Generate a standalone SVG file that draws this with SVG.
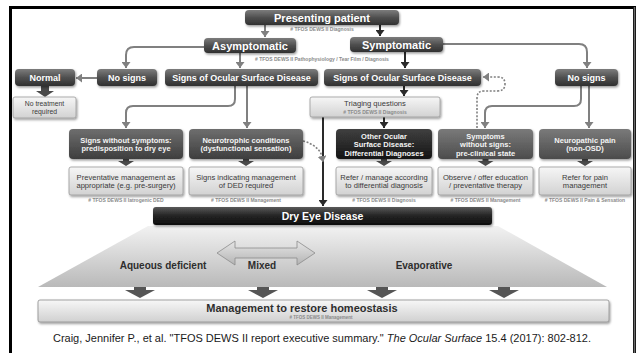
<svg xmlns="http://www.w3.org/2000/svg" width="637" height="353" viewBox="0 0 637 353">
  <defs>
    <linearGradient id="gDark" x1="0" y1="0" x2="0" y2="1">
      <stop offset="0" stop-color="#7c7c7c"/>
      <stop offset="0.5" stop-color="#505050"/>
      <stop offset="1" stop-color="#303030"/>
    </linearGradient>
    <linearGradient id="gMid" x1="0" y1="0" x2="0" y2="1">
      <stop offset="0" stop-color="#6e6e6e"/>
      <stop offset="1" stop-color="#3e3e3e"/>
    </linearGradient>
    <linearGradient id="gSoft" x1="0" y1="0" x2="0" y2="1">
      <stop offset="0" stop-color="#7a7a7a"/>
      <stop offset="1" stop-color="#4c4c4c"/>
    </linearGradient>
    <linearGradient id="gBlack" x1="0" y1="0" x2="0" y2="1">
      <stop offset="0" stop-color="#404040"/>
      <stop offset="1" stop-color="#141414"/>
    </linearGradient>
    <linearGradient id="gLight" x1="0" y1="0" x2="0" y2="1">
      <stop offset="0" stop-color="#f6f6f6"/>
      <stop offset="1" stop-color="#d2d2d2"/>
    </linearGradient>
    <linearGradient id="gDed" x1="0" y1="0" x2="0" y2="1">
      <stop offset="0" stop-color="#5a5a5a"/>
      <stop offset="0.45" stop-color="#262626"/>
      <stop offset="1" stop-color="#0c0c0c"/>
    </linearGradient>
    <linearGradient id="gTrap" x1="0" y1="0" x2="0" y2="1">
      <stop offset="0" stop-color="#f2f2f2"/>
      <stop offset="1" stop-color="#b9b9b9"/>
    </linearGradient>
    <linearGradient id="gMix" x1="0" y1="0" x2="0" y2="1">
      <stop offset="0" stop-color="#e6e6e6"/>
      <stop offset="1" stop-color="#b4b4b4"/>
    </linearGradient>
    <linearGradient id="gMgmt" x1="0" y1="0" x2="0" y2="1">
      <stop offset="0" stop-color="#f7f7f7"/>
      <stop offset="1" stop-color="#d0d0d0"/>
    </linearGradient>
    <filter id="sh" x="-10%" y="-30%" width="120%" height="170%">
      <feDropShadow dx="1" dy="1.5" stdDeviation="1" flood-color="#000" flood-opacity="0.4"/>
    </filter>
    <marker id="ag" markerUnits="userSpaceOnUse" markerWidth="7" markerHeight="9" refX="6" refY="4.5" orient="auto">
      <path d="M0,0 L6,4.5 L0,9 z" fill="#808080"/>
    </marker>
    <marker id="ak" markerUnits="userSpaceOnUse" markerWidth="7" markerHeight="9" refX="6" refY="4.5" orient="auto">
      <path d="M0,0 L6,4.5 L0,9 z" fill="#2a2a2a"/>
    </marker>
    <style>
      text { font-family: "Liberation Sans", Arial, sans-serif; text-anchor: middle; }
      .dark { fill: url(#gDark); filter: url(#sh); }
      .mid { fill: url(#gMid); filter: url(#sh); }
      .soft { fill: url(#gSoft); filter: url(#sh); }
      .blk { fill: url(#gBlack); filter: url(#sh); }
      .light { fill: url(#gLight); stroke: #9a9a9a; stroke-width: 0.8; filter: url(#sh); }
      .hd { font-size: 11px; font-weight: bold; fill: #fff; }
      .b9 { font-size: 9px; font-weight: bold; fill: #fff; }
      .b7 { font-size: 7.5px; font-weight: bold; fill: #f4f4f4; }
      .lt { font-size: 7.6px; fill: #3a3a3a; }
      .fn { font-size: 5px; font-weight: bold; fill: #8a8a8a; }
      .cg { fill: none; stroke: #808080; stroke-width: 2; marker-end: url(#ag); }
      .ck { fill: none; stroke: #2a2a2a; stroke-width: 2; marker-end: url(#ak); }
      .dot { fill: none; stroke: #808080; stroke-width: 1.6; stroke-dasharray: 2 1.6; marker-end: url(#ag); }
      .fat { fill: #4a4a4a; }
      .big { font-size: 10px; font-weight: bold; fill: #2e2e2e; }
    </style>
  </defs>

  <!-- page frame -->
  <rect x="0" y="0" width="637" height="353" fill="#fff"/>
  <path d="M10.5,353 V7.5 H634.5 V353" fill="none" stroke="#000" stroke-width="3"/>
  <line x1="634.5" y1="7" x2="634.5" y2="353" stroke="#6a6a6a" stroke-width="1.5"/>

  <!-- connectors -->
  <g id="connectors">
    <line class="cg" x1="265" y1="25" x2="265" y2="37"/>
    <line class="ck" x1="380" y1="25" x2="380" y2="36"/>
    <path class="cg" d="M204,47 H134 Q126,47 126,55 V68"/>
    <line class="cg" x1="240" y1="53" x2="240" y2="68"/>
    <line class="ck" x1="405" y1="52" x2="405" y2="68"/>
    <path class="cg" d="M443,44 H579 Q587,44 587,52 V68"/>
    <line class="cg" x1="97" y1="78" x2="76" y2="78"/>
    <path class="fat" d="M41,86 h8 v5 h5 l-9,6 l-9,-6 h5 z"/>
    <path class="cg" d="M235,86 V99 Q235,106 228,106 H133 Q126,106 126,113 V128"/>
    <line class="cg" x1="247" y1="86" x2="247" y2="128"/>
    <line class="ck" x1="404" y1="86" x2="404" y2="96"/>
    <line class="ck" x1="323" y1="117" x2="323" y2="206"/>
    <line class="ck" x1="384" y1="117" x2="384" y2="128"/>
    <path class="cg" d="M581,86 V99 Q581,106 574,106 H492 Q485,106 485,113 V128"/>
    <line class="cg" x1="589" y1="86" x2="589" y2="128"/>
    <path class="dot" d="M303,141 Q318,145 322,156 L323,162"/>
    <path class="dot" d="M477,128 V98 Q477,91 484,91 H497 Q505,91 505,84 Q505,77 498,77 H483"/>
    <!-- short heavy arrows between paired boxes -->
    <path class="fat" d="M123,159 h6 v2 h5 l-8,5 l-8,-5 h5 z"/>
    <path class="fat" d="M243,159 h6 v2 h5 l-8,5 l-8,-5 h5 z"/>
    <path class="fat" d="M381,159 h6 v2 h5 l-8,5 l-8,-5 h5 z"/>
    <path class="fat" d="M482.5,159 h6 v2 h5 l-8,5 l-8,-5 h5 z"/>
    <path class="fat" d="M582,159 h6 v2 h5 l-8,5 l-8,-5 h5 z"/>
  </g>

  <g id="presenting">
    <rect class="dark" x="245" y="10" width="154" height="15" rx="4"/>
    <text class="hd" x="322" y="21.5">Presenting patient</text>
    <text class="fn" x="322" y="31">&#35; TFOS DEWS II Diagnosis</text>
  </g>

  <g id="asymptomatic">
    <rect class="dark" x="204" y="38" width="92" height="15" rx="4"/>
    <text class="hd" x="250" y="49.5">Asymptomatic</text>
  </g>

  <g id="symptomatic">
    <rect class="dark" x="350" y="37" width="93" height="15" rx="4"/>
    <text class="hd" x="396.5" y="48.5">Symptomatic</text>
  </g>

  <text class="fn" x="322" y="61">&#35; TFOS DEWS II Pathophysiology / Tear Film / Diagnosis</text>

  <g id="normal">
    <rect class="dark" x="15" y="69" width="60" height="17" rx="4"/>
    <text class="b9" x="45" y="80.5">Normal</text>
  </g>

  <g id="no-signs-left">
    <rect class="dark" x="97" y="69" width="60" height="17" rx="4"/>
    <text class="b9" x="127" y="80.5">No signs</text>
  </g>

  <g id="osd-left">
    <rect class="dark" x="165" y="69" width="153" height="17" rx="4"/>
    <text class="b9" x="241.5" y="80.5">Signs of Ocular Surface Disease</text>
  </g>

  <g id="osd-right">
    <rect class="dark" x="324" y="69" width="157" height="17" rx="4"/>
    <text class="b9" x="402.5" y="80.5">Signs of Ocular Surface Disease</text>
  </g>

  <g id="no-signs-right">
    <rect class="dark" x="555" y="69" width="63" height="17" rx="4"/>
    <text class="b9" x="586.5" y="80.5">No signs</text>
  </g>

  <g id="no-treatment">
    <rect class="light" x="13" y="97" width="63" height="21" rx="2"/>
    <text class="lt" x="44.5" y="105.5" style="font-size:6.8px">No treatment</text>
    <text class="lt" x="44.5" y="113.5" style="font-size:6.8px">required</text>
  </g>

  <g id="triaging">
    <rect class="light" x="310" y="97" width="130" height="20" rx="2"/>
    <text class="lt" x="375" y="106">Triaging questions</text>
    <text class="fn" x="375" y="114">&#35; TFOS DEWS II Diagnosis</text>
  </g>

  <g id="signs-without-symptoms">
    <rect class="mid" x="69" y="129" width="114" height="30" rx="4"/>
    <text class="b7" x="126" y="143">Signs without symptoms:</text>
    <text class="b7" x="126" y="151">predisposition to dry eye</text>
  </g>

  <g id="neurotrophic">
    <rect class="mid" x="189" y="129" width="114" height="30" rx="4"/>
    <text class="b7" x="246" y="143">Neurotrophic conditions</text>
    <text class="b7" x="246" y="151">(dysfunctional sensation)</text>
  </g>

  <g id="other-osd">
    <rect class="blk" x="336" y="129" width="96" height="30" rx="4"/>
    <text class="b7" x="384" y="139">Other Ocular</text>
    <text class="b7" x="384" y="147">Surface Disease:</text>
    <text class="b7" x="384" y="155.5">Differential Diagnoses</text>
  </g>

  <g id="symptoms-without-signs">
    <rect class="soft" x="438" y="129" width="95" height="30" rx="4"/>
    <text class="b7" x="485.5" y="139">Symptoms</text>
    <text class="b7" x="485.5" y="147">without signs:</text>
    <text class="b7" x="485.5" y="155.5">pre-clinical state</text>
  </g>

  <g id="neuropathic">
    <rect class="soft" x="539" y="129" width="92" height="30" rx="4"/>
    <text class="b7" x="585" y="143">Neuropathic pain</text>
    <text class="b7" x="585" y="151">(non-OSD)</text>
  </g>

  <g id="preventative">
    <rect class="light" x="69" y="167" width="114" height="28" rx="2"/>
    <text class="lt" x="126" y="179.5">Preventative management as</text>
    <text class="lt" x="126" y="187.5">appropriate (e.g. pre-surgery)</text>
    <text class="fn" x="126" y="202">&#35; TFOS DEWS II Iatrogenic DED</text>
  </g>

  <g id="signs-indicating">
    <rect class="light" x="189" y="167" width="114" height="28" rx="2"/>
    <text class="lt" x="246" y="179.5">Signs indicating management</text>
    <text class="lt" x="246" y="187.5">of DED required</text>
    <text class="fn" x="246" y="202">&#35; TFOS DEWS II Management</text>
  </g>

  <g id="refer-manage">
    <rect class="light" x="336" y="167" width="96" height="28" rx="2"/>
    <text class="lt" x="384" y="179.5">Refer / manage according</text>
    <text class="lt" x="384" y="187.5">to differential diagnosis</text>
    <text class="fn" x="384" y="202">&#35; TFOS DEWS II Diagnosis</text>
  </g>

  <g id="observe">
    <rect class="light" x="438" y="167" width="95" height="28" rx="2"/>
    <text class="lt" x="485.5" y="179.5">Observe / offer education</text>
    <text class="lt" x="485.5" y="187.5">/ preventative therapy</text>
    <text class="fn" x="485.5" y="202">&#35; TFOS DEWS II Management</text>
  </g>

  <g id="refer-pain">
    <rect class="light" x="539" y="167" width="92" height="28" rx="2"/>
    <text class="lt" x="585" y="179.5">Refer for pain</text>
    <text class="lt" x="585" y="187.5">management</text>
    <text class="fn" x="585" y="202">&#35; TFOS DEWS II Pain &amp; Sensation</text>
  </g>

  <!-- subtype fan below the disease bar -->
  <polygon points="148,226 498,226 607,287 38,287" fill="url(#gTrap)"/>

  <g id="dry-eye-disease">
    <rect x="153" y="207" width="339" height="18" rx="3" fill="url(#gDed)" filter="url(#sh)"/>
    <text class="hd" x="322.5" y="220" style="font-size:10.5px">Dry Eye Disease</text>
  </g>

  <g id="mixed-arrow">
    <polygon points="217,253 235,241 235,248 297,248 297,241 315,253 297,265 297,258 235,258 235,265" fill="url(#gMix)" stroke="#8c8c8c" stroke-width="0.8"/>
  </g>

  <text class="big" x="163" y="269">Aqueous deficient</text>
  <text class="big" x="262" y="269">Mixed</text>
  <text class="big" x="424" y="269">Evaporative</text>

  <g id="fan-arrows" fill="#555">
    <path d="M134,287 h12 v3 h9 l-15,8 l-15,-8 h9 z"/>
    <path d="M257,287 h12 v3 h9 l-15,8 l-15,-8 h9 z"/>
    <path d="M376,287 h12 v3 h9 l-15,8 l-15,-8 h9 z"/>
    <path d="M498,287 h12 v3 h9 l-15,8 l-15,-8 h9 z"/>
  </g>

  <g id="management">
    <rect x="38" y="300" width="571" height="22" rx="2" fill="url(#gMgmt)" stroke="#8e8e8e" stroke-width="0.8" filter="url(#sh)"/>
    <text class="big" x="302" y="311.5" style="font-size:11px">Management to restore homeostasis</text>
    <text class="fn" x="321" y="318.5" style="font-size:4.5px">&#35; TFOS DEWS II Management</text>
  </g>

  <text x="322" y="342" style="font-size:11px; fill:#1a1a1a">Craig, Jennifer P., et al. "TFOS DEWS II report executive summary." <tspan font-style="italic">The Ocular Surface</tspan> 15.4 (2017): 802-812.</text>
</svg>
